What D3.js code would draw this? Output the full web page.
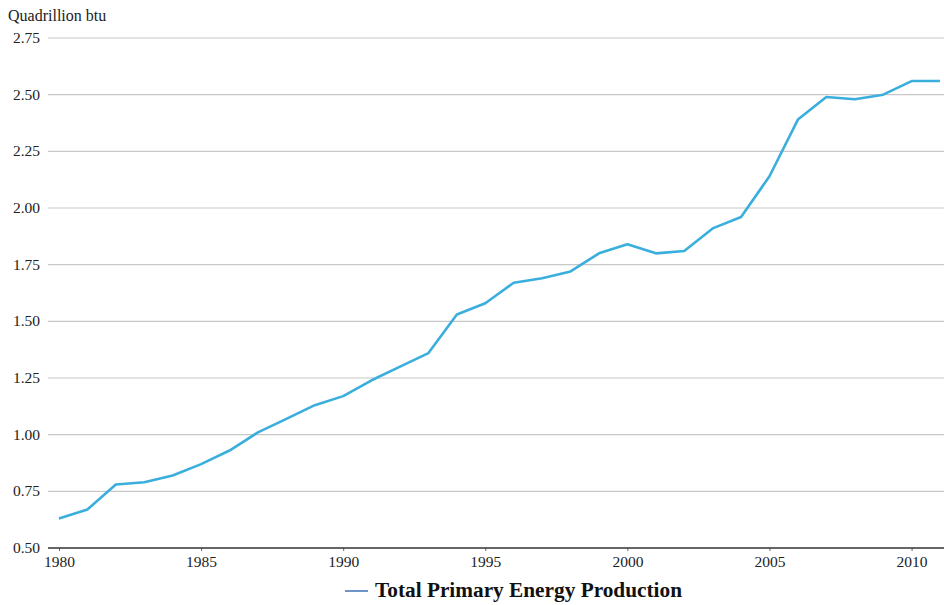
<!DOCTYPE html>
<html><head><meta charset="utf-8">
<script src="https://cdn.jsdelivr.net/npm/d3@7"></script>
<style>body{margin:0;background:#fff}svg{display:block}</style>
</head><body>
<svg id="c" width="944" height="605"></svg>
<script>
const years = [1980,1981,1982,1983,1984,1985,1986,1987,1988,1989,1990,1991,1992,1993,1994,1995,1996,1997,1998,1999,2000,2001,2002,2003,2004,2005,2006,2007,2008,2009,2010,2011];
const production = [0.63,0.67,0.78,0.79,0.82,0.87,0.93,1.01,1.07,1.13,1.17,1.24,1.30,1.36,1.53,1.58,1.67,1.69,1.72,1.80,1.84,1.80,1.81,1.91,1.96,2.14,2.39,2.49,2.48,2.50,2.56,2.56];
const yTicks = [0.50,0.75,1.00,1.25,1.50,1.75,2.00,2.25,2.50,2.75];
const xTicks = [1980,1985,1990,1995,2000,2005,2010];
const seriesName = "Total Primary Energy Production";
const unitLabel = "Quadrillion btu";

const svg = d3.select("#c");
const x = d3.scaleLinear().domain([1980, 2011]).range([59, 940]);
const y = d3.scaleLinear().domain([0.5, 2.75]).range([548, 38]);
const font = "'Liberation Serif','Times New Roman',serif";

// gridlines
svg.append("g").selectAll("line").data(yTicks.filter(d => d > 0.5)).join("line")
  .attr("x1", 48).attr("x2", 944)
  .attr("y1", d => y(d)).attr("y2", d => y(d))
  .attr("stroke", "#c8c8c8").attr("stroke-width", 1.2);

// y labels
svg.append("g").selectAll("text").data(yTicks).join("text")
  .attr("x", 40).attr("y", d => y(d) + 5)
  .attr("text-anchor", "end")
  .attr("font-family", font).attr("font-size", 15.5).attr("fill", "#222")
  .text(d => d3.format(".2f")(d));

svg.append("text").attr("x", 8).attr("y", 21)
  .attr("font-family", font).attr("font-size", 16).attr("fill", "#222")
  .text(unitLabel);

// x axis
const xAxis = d3.axisBottom(x).tickValues(xTicks).tickFormat(d3.format("d")).tickSize(3).tickPadding(5);
const gx = svg.append("g").attr("transform", "translate(0,548)").call(xAxis);
gx.select(".domain").remove();
gx.selectAll(".tick line").attr("stroke", "#666");
gx.selectAll("text").attr("font-family", font).attr("font-size", 15.5).attr("fill", "#222");
svg.append("line").attr("x1", 48).attr("x2", 944).attr("y1", 548).attr("y2", 548)
  .attr("stroke", "#333").attr("stroke-width", 1.6);

// line
const line = d3.line().x((d, i) => x(years[i])).y(d => y(d));
svg.append("path").datum(production)
  .attr("d", line).attr("fill", "none")
  .attr("stroke", "#3aaedd").attr("stroke-width", 2.6).attr("stroke-linejoin", "round");

// legend
svg.append("line").attr("x1", 345).attr("x2", 368).attr("y1", 591).attr("y2", 591)
  .attr("stroke", "#6f95c8").attr("stroke-width", 2);
svg.append("text").attr("x", 375).attr("y", 597)
  .attr("font-family", font).attr("font-size", 21.3).attr("font-weight", "bold").attr("fill", "#111")
  .text(seriesName);
</script>
</body></html>
